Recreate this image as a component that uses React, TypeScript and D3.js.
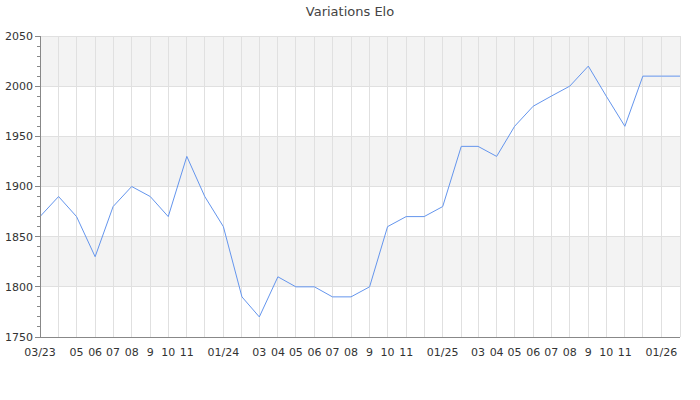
import React from "react";
import * as d3 from "d3";

const months: string[] = [
  "2023-03", "2023-04", "2023-05", "2023-06", "2023-07", "2023-08", "2023-09", "2023-10", "2023-11", "2023-12",
  "2024-01", "2024-02", "2024-03", "2024-04", "2024-05", "2024-06", "2024-07", "2024-08", "2024-09", "2024-10", "2024-11", "2024-12",
  "2025-01", "2025-02", "2025-03", "2025-04", "2025-05", "2025-06", "2025-07", "2025-08", "2025-09", "2025-10", "2025-11", "2025-12",
  "2026-01", "2026-02",
];
const elo: number[] = [
  1870, 1890, 1870, 1830, 1880, 1900, 1890, 1870, 1930, 1890,
  1860, 1790, 1770, 1810, 1800, 1800, 1790, 1790, 1800, 1860, 1870, 1870,
  1880, 1940, 1940, 1930, 1960, 1980, 1990, 2000, 2020, 1990, 1960, 2010,
  2010, 2010,
];
const xTickLabels: string[] = [
  "03/23", "", "05", "06", "07", "08", "9", "10", "11", "",
  "01/24", "", "03", "04", "05", "06", "07", "08", "9", "10", "11", "",
  "01/25", "", "03", "04", "05", "06", "07", "08", "9", "10", "11", "",
  "01/26", "",
];
const yTicks: number[] = [1750, 1800, 1850, 1900, 1950, 2000, 2050];
const title = "Variations Elo";

const W = 700, H = 400;
const M = { left: 40, right: 20, top: 36, bottom: 63 };

export default function App() {
  const parse = d3.timeParse("%Y-%m");
  const dates = months.map((m) => parse(m) as Date);
  const x = d3.scaleTime().domain([dates[0], dates[dates.length - 1]]).range([M.left, W - M.right]);
  const y = d3.scaleLinear().domain([1750, 2050]).range([H - M.bottom, M.top]);
  const line = d3.line<number>().x((_, i) => x(dates[i])).y((d) => y(d));
  const minor = d3.range(1750, 2051, 10).filter((v) => v % 50 !== 0);
  const font = "DejaVu Sans, sans-serif";
  const bands = yTicks.slice(0, -1).map((v, i) => ({ lo: v, hi: yTicks[i + 1], i }));
  return (
    <svg width={W} height={H} style={{ position: "absolute", left: 0, top: 0 }}>
      <rect width={W} height={H} fill="#fff" />
      {bands.map((b) =>
        b.i % 2 === 1 ? (
          <rect key={b.lo} x={M.left} width={W - M.right - M.left} y={y(b.hi)} height={y(b.lo) - y(b.hi)} fill="#f3f3f3" />
        ) : null
      )}
      {dates.map((d, i) => (
        <line key={"vg" + i} x1={x(d)} x2={x(d)} y1={M.top} y2={H - M.bottom} stroke="#e0e0e0" strokeWidth={1} shapeRendering="crispEdges" />
      ))}
      {yTicks.map((v) => (
        <line key={"hg" + v} x1={M.left} x2={W - M.right} y1={y(v)} y2={y(v)} stroke="#e0e0e0" strokeWidth={1} shapeRendering="crispEdges" />
      ))}
      <path d={line(elo) || ""} fill="none" stroke="#6495ed" strokeWidth={1} />
      <line x1={M.left} x2={M.left} y1={M.top} y2={H - M.bottom} stroke="#888" shapeRendering="crispEdges" />
      <line x1={M.left} x2={W - M.right} y1={H - M.bottom} y2={H - M.bottom} stroke="#888" shapeRendering="crispEdges" />
      {yTicks.map((v) => (
        <g key={"yt" + v}>
          <line x1={M.left - 5} x2={M.left} y1={y(v)} y2={y(v)} stroke="#888" shapeRendering="crispEdges" />
          <text x={M.left - 7} y={y(v)} dy="0.35em" textAnchor="end" fontSize={11} fontFamily={font} fill="#333">{v}</text>
        </g>
      ))}
      {minor.map((v) => (
        <line key={"mt" + v} x1={M.left - 3} x2={M.left} y1={y(v)} y2={y(v)} stroke="#888" shapeRendering="crispEdges" />
      ))}
      {dates.map((d, i) =>
        xTickLabels[i] ? (
          <text key={"xt" + i} x={x(d)} y={H - M.bottom + 19} textAnchor="middle" fontSize={11} fontFamily={font} fill="#333">{xTickLabels[i]}</text>
        ) : null
      )}
      <text x={W / 2} y={16} textAnchor="middle" fontSize={13} fontFamily={font} fill="#444">{title}</text>
    </svg>
  );
}
